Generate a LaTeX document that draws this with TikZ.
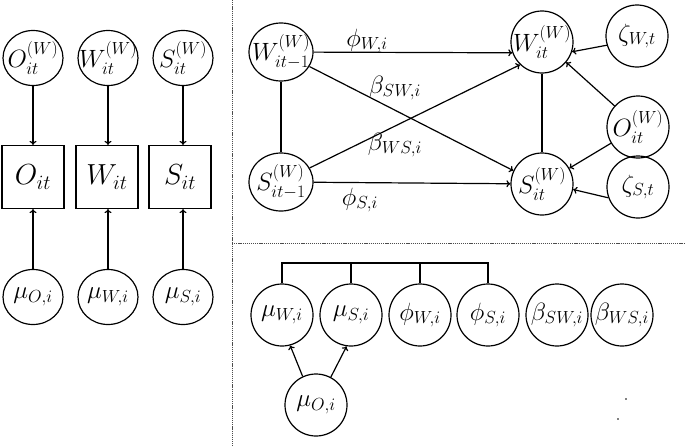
\RequirePackage{fix-cm}
\documentclass[tikz,border=0pt]{standalone}
\usepackage{amsmath}
\usetikzlibrary{shapes.geometric,arrows.meta}
\newcommand{\vlab}[1]{\makebox[0pt]{$#1$}}
\begin{document}
\begin{tikzpicture}[x=1pt,y=-1pt, line width=1.2pt,
  font=\fontsize{25}{29}\selectfont,
  var/.style={ellipse,draw,minimum width=62pt,minimum height=62pt,inner sep=0pt},
  lvar/.style={ellipse,draw,minimum width=60pt,minimum height=55pt,inner sep=0pt},
  obs/.style={rectangle,draw,minimum width=62pt,minimum height=63pt,inner sep=0pt,font=\fontsize{29}{33}\selectfont},
  arr/.style={-{To[length=4pt,width=7pt]}},
  sep/.style={line width=0.8pt, gray!60!black, dash pattern=on 1.2pt off 0.9pt},
  lab/.style={inner sep=0pt}
]
\useasboundingbox (0,0) rectangle (685,447);

% separators
\coordinate (vtop) at (232,0);
\coordinate (vbot) at (232,447);
\coordinate (hl) at (232,243);
\coordinate (hr) at (685,243);
\draw[sep] (vtop) -- (vbot);
\draw[sep] (hl) -- (hr);

% ---------- left panel ----------
\node[lvar] (OW) at (33,58) {\vlab{O^{(W)}_{it}}};
\node[lvar] (WW) at (108,58) {\vlab{W^{(W)}_{it}}};
\node[lvar] (SW) at (183,58) {\vlab{S^{(W)}_{it}}};
\node[obs] (Ob) at (33,177) {$O_{it}$};
\node[obs] (Wb) at (107,177) {$W_{it}$};
\node[obs] (Sb) at (180,177) {$S_{it}$};
\node[lvar] (muOl) at (33,297) {\vlab{\mu_{O,i}}};
\node[lvar] (muWl) at (108,297) {\vlab{\mu_{W,i}}};
\node[lvar] (muSl) at (183,297) {\vlab{\mu_{S,i}}};

\draw[arr] (OW.south) -- (OW.south |- Ob.north);
\draw[arr] (WW.south) -- (WW.south |- Wb.north);
\draw[arr] (SW.south) -- (SW.south |- Sb.north);
\draw[arr] (muOl.north) -- (muOl.north |- Ob.south);
\draw[arr] (muWl.north) -- (muWl.north |- Wb.south);
\draw[arr] (muSl.north) -- (muSl.north |- Sb.south);

% ---------- top right panel ----------
\node[var,minimum width=64pt,minimum height=58pt] (Wm1) at (281,52) {\vlab{W^{(W)}_{it-1}}};
\node[var,minimum width=64pt,minimum height=58pt] (Sm1) at (281,182) {\vlab{S^{(W)}_{it-1}}};
\node[var] (Wit) at (542,42) {\vlab{W^{(W)}_{it}}};
\node[var] (Sit) at (542,184) {\vlab{S^{(W)}_{it}}};
\node[var] (Zw) at (637,36) {\vlab{\zeta_{W,t}}};
\node[var] (Ow) at (638,127) {\vlab{O^{(W)}_{it}}};
\node[var] (Zs) at (638,187) {\vlab{\zeta_{S,t}}};

\draw (Wm1) -- (Sm1);
\draw (Wit) -- (Sit);
\draw[arr] (Wm1) -- (Wit.200);
\draw[arr] (Sm1) -- (Sit);
\draw[arr] (Wm1) -- (Sit.155);
\draw[arr] (Sm1) -- (Wit.226);
\draw[arr] (Zw.197) -- (Wit.342);
\draw[arr] (Ow) -- (Wit.320);
\draw[arr] (Ow) -- (Sit.30);
\draw[arr] (Zs.200) -- (Sit.-10);

\node[lab] (lphiW) at (367,41) {$\phi_{W,i}$};
\node[lab] (lbetaSW) at (395,88) {$\beta_{SW,i}$};
\node[lab] (lbetaWS) at (395,145) {$\beta_{WS,i}$};
\node[lab] (lphiS) at (360,200) {$\phi_{S,i}$};

% ---------- bottom right panel ----------
\node[var] (muW) at (282,315) {\vlab{\mu_{W,i}}};
\node[var] (muS) at (351,315) {\vlab{\mu_{S,i}}};
\node[var] (phW) at (420,315) {\vlab{\phi_{W,i}}};
\node[var] (phS) at (488,315) {\vlab{\phi_{S,i}}};
\node[var] (bSW) at (557,315) {\vlab{\beta_{SW,i}}};
\node[var] (bWS) at (622,315) {\vlab{\beta_{WS,i}}};
\node[var] (muO) at (316,405) {\vlab{\mu_{O,i}}};

\coordinate (bar) at (0,263);
\draw (muW.north) -- (muW.north |- bar) -| (phS.north);
\draw (muS.north) -- (muS.north |- bar);
\draw (phW.north) -- (phW.north |- bar);

\draw[arr] (muO.115) -- (muW.285);
\draw[arr] (muO.62) -- (muS.262);

\fill (626,399) circle (0.8);
\fill (618,419) circle (0.8);
\end{tikzpicture}
\end{document}
